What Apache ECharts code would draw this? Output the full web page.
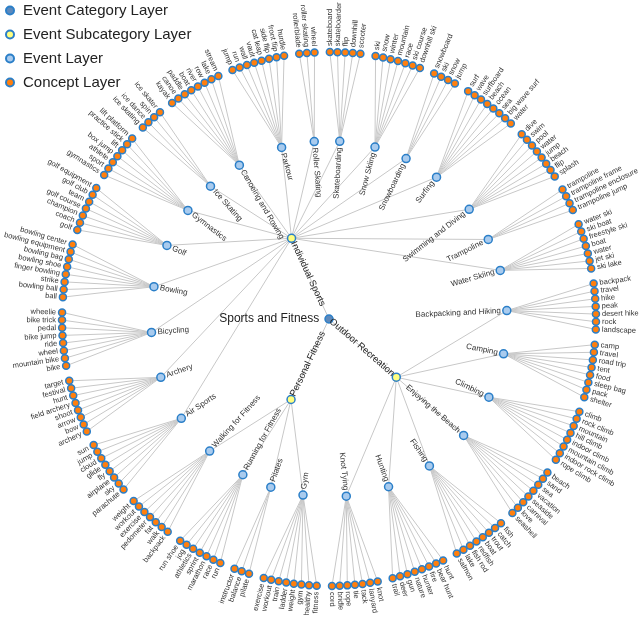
<!DOCTYPE html>
<html><head><meta charset="utf-8">
<script src="https://cdn.jsdelivr.net/npm/echarts@6/dist/echarts.min.js"></script>
<style>html,body{margin:0;padding:0;background:#fff}#c{width:640px;height:617px}</style>
</head><body><div id="c"></div>
<script>
// ---- data (clockwise order, starting at the bottom) ----
const rootName = 'Sports and Fitness';
const subcategories = ['Personal Fitness', 'Individual Sports', 'Outdoor Recreation'];
const fitnessEvents = ['Gym','Pilates','Running for Fitness','Walking for Fitness'];
const individualEvents = ['Air Sports','Archery','Bicycling','Bowling','Golf','Gymnastics','Ice Skating','Canoeing and Rowing','Parkour','Roller Skating','Skateboarding','Snow Skiing','Snowboarding','Surfing','Swimming and Diving','Trampoline','Water Skiing'];
const outdoorEvents = ['Backpacking and Hiking','Camping','Climbing','Enjoying the Beach','Fishing','Hunting','Knot Tying'];

const gymConcepts = ['fitness','healthy','gym','weight','ladder','train','workout','exercise'];
const pilatesConcepts = ['pilate','balance','instructor'];
const runningConcepts = ['run','race','marathon','sprint','athletics','jog','run shoe'];
const walkingConcepts = ['backpack','walk','fat','pedometer','exercise','workout','weight'];
const airConcepts = ['parachute','sky','airplane','fly','glide','cloud','jump','sun'];
const archeryConcepts = ['archery','bow','arrow','shoot','field archery','hunt','festival','target'];
const bicyclingConcepts = ['bike','mountain bike','wheel','ride','bike jump','pedal','bike trick','wheelie'];
const bowlingConcepts = ['ball','bowling ball','strike','finger bowling','bowling shoe','bowling bag','bowling equipment','bowling center'];
const golfConcepts = ['golf','coach','champion','golf course','team','golf club','golf equipment'];
const gymnasticsConcepts = ['gymnastics','sport','athlete','box jump','lift','practice stick','lift platform'];
const iceConcepts = ['ice skating','ice dance','spin','ice skater'];
const canoeConcepts = ['kayak','canoe','paddle','boat','river','row','lake','stream'];
const parkourConcepts = ['jump','run','wall','vault','cat leap','side flip','front flip','hurdle'];
const rollerConcepts = ['rollerblade','roller skating','wheel'];
const skateConcepts = ['skateboard','skateboarder','flip','downhill','scooter'];
const skiConcepts = ['ski','snow','winter','mountain','race','ski course','downhill ski'];
const snowboardConcepts = ['snowboard','ski','snow','jump'];
const surfConcepts = ['surf','wave','surfboard','beach','ocean','sea','big wave surf','water'];
const swimConcepts = ['dive','swim','pool','water','jump','beach','flip','splash'];
const trampolineConcepts = ['trampoline','trampoline frame','trampoline enclosure','trampoline jump'];
const waterSkiConcepts = ['water ski','ski boat','freestyle ski','boat','water','jet ski','ski lake'];
const backpackingConcepts = ['backpack','travel','hike','peak','desert hike','rock','landscape'];
const campingConcepts = ['camp','travel','road trip','tent','food','sleep bag','pack','shelter'];
const climbingConcepts = ['climb','rock climb','mountain','hill climb','indoor climb','mountain climb','indoor rock climb','rope climb'];
const beachConcepts = ['beach','sand','sea','vacation','seaside','carnival','love','seashell'];
const fishingConcepts = ['fish','catch','trout','boat','redfish','fish rod','lake','salmon'];
const huntingConcepts = ['hunt','bear hunt','fire','hunter','nature','gun','deer','trail'];
const knotConcepts = ['knot','lanyard','tack','tie','rope','bridle','cord'];

const legendLayers = ['Event Category Layer','Event Subcategory Layer','Event Layer','Concept Layer'];

// ---- styles / layout parameters ----
const layerFill = ['#5d89bb', '#ffff80', '#a9cbee', '#ff7f0e'];
const layerSize = [8, 8, 8, 7];
const layerFont = [12, 9.5, 8, 7.5];
const layerGap = [5, 4, 6, 6];
const borderBlue = '#2b7fc8';
const FONT = 'Liberation Sans, Arial, Helvetica, sans-serif';
const ANGLE_START = -91;   // polar angleAxis startAngle (degrees, maths convention)

const eventConcepts = {
  'Gym': gymConcepts, 'Pilates': pilatesConcepts, 'Running for Fitness': runningConcepts, 'Walking for Fitness': walkingConcepts,
  'Air Sports': airConcepts, 'Archery': archeryConcepts, 'Bicycling': bicyclingConcepts, 'Bowling': bowlingConcepts,
  'Golf': golfConcepts, 'Gymnastics': gymnasticsConcepts, 'Ice Skating': iceConcepts, 'Canoeing and Rowing': canoeConcepts,
  'Parkour': parkourConcepts, 'Roller Skating': rollerConcepts, 'Skateboarding': skateConcepts, 'Snow Skiing': skiConcepts,
  'Snowboarding': snowboardConcepts, 'Surfing': surfConcepts, 'Swimming and Diving': swimConcepts,
  'Trampoline': trampolineConcepts, 'Water Skiing': waterSkiConcepts,
  'Backpacking and Hiking': backpackingConcepts, 'Camping': campingConcepts, 'Climbing': climbingConcepts,
  'Enjoying the Beach': beachConcepts, 'Fishing': fishingConcepts, 'Hunting': huntingConcepts, 'Knot Tying': knotConcepts
};
const subEvents = [fitnessEvents, individualEvents, outdoorEvents];

// ---- radial tidy-tree ordering (siblings 1 step apart, cousins 2) ----
const tree = { name: rootName, depth: 0, children: subcategories.map((s, si) => ({
  name: s, depth: 1, children: subEvents[si].map(ev => ({
    name: ev, depth: 2, children: eventConcepts[ev].map(c => ({ name: c, depth: 3, children: [] }))
  }))
})) };

let pos = 0, lastParent = null;
(function place(node, parent) {
  if (!node.children.length) {
    pos += lastParent === null ? 1 : (lastParent === parent ? 1 : 2);
    lastParent = parent;
    node.u = pos;
  } else {
    node.children.forEach(ch => place(ch, node));
    node.u = (node.children[0].u + node.children[node.children.length - 1].u) / 2;
  }
})(tree, null);
const TOTAL = pos + 1;

function labelFor(node) {
  const d = node.depth;
  if (d === 0) {
    return { show: true, position: 'left', distance: layerGap[0], fontSize: layerFont[0], color: '#222', fontFamily: FONT };
  }
  const phi = -ANGLE_START + node.u * 360 / TOTAL;
  const right = Math.cos(phi * Math.PI / 180) >= 0;
  const outward = d === 3;
  const align = (outward === right) ? 'left' : 'right';
  const g = layerGap[d];
  return {
    show: true, position: ['50%', '50%'],
    rotate: right ? -phi : 180 - phi,
    align: align, verticalAlign: 'middle',
    padding: align === 'left' ? [0, 0, 0, g] : [0, g, 0, 0],
    fontSize: layerFont[d], color: d === 1 ? '#222' : '#333', fontFamily: FONT
  };
}

const nodes = [], links = [];
(function emit(node, parentIdx) {
  const idx = nodes.length;
  nodes.push({
    id: 'n' + idx, name: node.name, category: node.depth,
    value: [node.depth, node.depth === 0 ? 0 : node.u],
    symbolSize: layerSize[node.depth],
    label: labelFor(node)
  });
  if (parentIdx !== null) links.push({ source: parentIdx, target: idx });
  node.children.forEach(ch => emit(ch, idx));
})(tree, null);

const chart = echarts.init(document.getElementById('c'), null, { renderer: 'canvas' });
chart.setOption({
  animation: false,
  textStyle: { fontFamily: FONT },
  legend: {
    orient: 'vertical', left: 0, top: -2, itemGap: 9,
    icon: 'circle', itemWidth: 16, itemHeight: 8,
    textStyle: { fontSize: 15, color: '#222', fontFamily: FONT },
    data: legendLayers
  },
  polar: { center: [329, 319], radius: 267 },
  angleAxis: { type: 'value', min: 0, max: TOTAL, startAngle: ANGLE_START, clockwise: true, show: false },
  radiusAxis: { type: 'value', min: 0, max: 3, show: false },
  series: [{
    type: 'graph', coordinateSystem: 'polar', polarIndex: 0,
    symbol: 'circle', roam: false,
    data: nodes, links: links,
    categories: legendLayers.map((n, i) => ({
      name: n, itemStyle: { color: layerFill[i], borderColor: borderBlue, borderWidth: 1.5 }
    })),
    lineStyle: { color: '#c8c8c8', width: 1, opacity: 1, curveness: 0 },
    emphasis: { disabled: true }
  }]
});
</script></body></html>
